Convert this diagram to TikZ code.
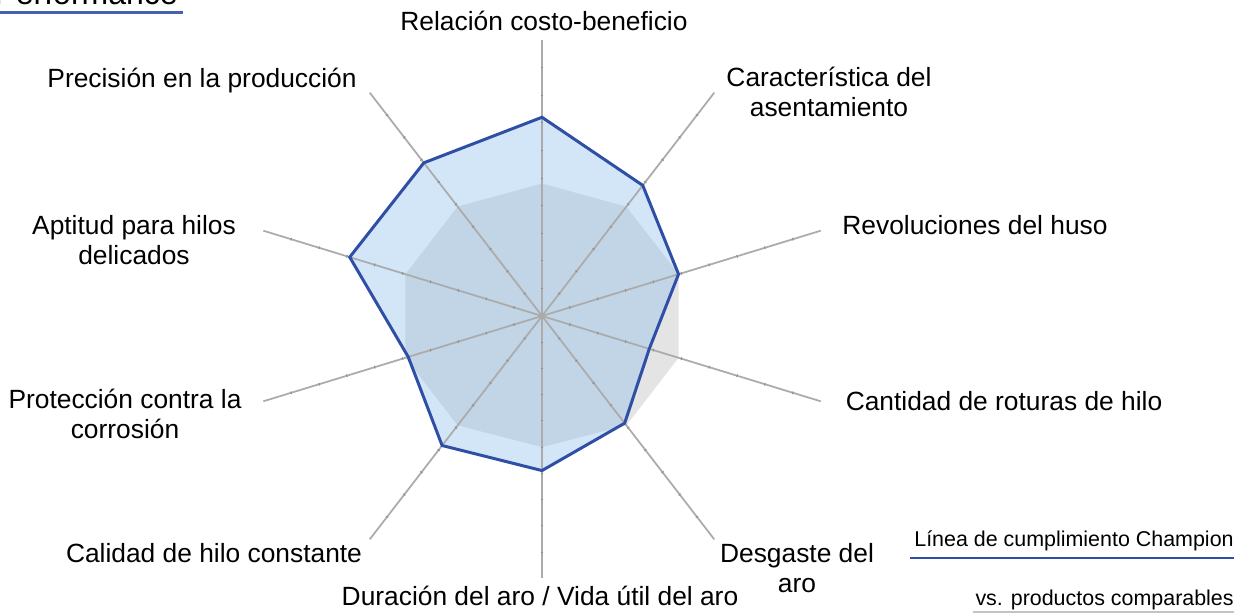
\documentclass[tikz,border=0pt]{standalone}
\usepackage{fontspec}
\setmainfont{Liberation Sans}
\usepackage{tikz}
\usetikzlibrary{calc}
\definecolor{linieblau}{HTML}{2F4EA6}
\definecolor{flaechenblau}{RGB}{145,192,235}
\definecolor{achsengrau}{HTML}{ABABAB}
\definecolor{strichgrau}{HTML}{8E8E8E}
\definecolor{vergleichgrau}{HTML}{E4E4E4}

\begin{document}
\begin{tikzpicture}[x=0.02cm,y=-0.02cm,
  achse/.style={achsengrau,line width=1pt},
  beschr/.style={font=\fontsize{15}{17}\selectfont,inner sep=0pt,align=center},
  legende/.style={font=\fontsize{12.2}{14}\selectfont,inner sep=0pt,anchor=base east}]
\useasboundingbox (0,0) rectangle (1254,614);
\coordinate (m) at (542,316);

% Achsen: Nummer / Winkel / Laenge
\foreach \i/\w/\l in {1/90/1,2/54/1,3/18/1,4/-18/1,5/-54/1,6/-90/0.95,7/-126/1,8/-162/1,9/162/1,10/126/1}
  \coordinate (a\i) at ({542+\l*293*cos(\w)},{316-\l*276*sin(\w)});

% Champion / Vergleich
\foreach \i/\w/\wert/\vgl in {1/90/0.72/0.48,2/54/0.585/0.49,3/18/0.49/0.49,4/-18/0.385/0.49,5/-54/0.48/0.49,
    6/-90/0.56/0.475,7/-126/0.58/0.49,8/-162/0.48/0.49,9/162/0.69/0.49,10/126/0.686/0.49}{
  \coordinate (c\i) at ({542+\wert*293*cos(\w)},{316-\wert*276*sin(\w)});
  \coordinate (g\i) at ({542+\vgl*293*cos(\w)},{316-\vgl*276*sin(\w)});
}

\fill[vergleichgrau] (g1) -- (g2) -- (g3) -- (g4) -- (g5) -- (g6) -- (g7) -- (g8) -- (g9) -- (g10) -- cycle;
\fill[flaechenblau,opacity=0.4] (c1) -- (c2) -- (c3) -- (c4) -- (c5) -- (c6) -- (c7) -- (c8) -- (c9) -- (c10) -- cycle;

\foreach \i in {1,...,10}{
  \draw[achse] (m) -- (a\i);
  \foreach \k in {1,...,9}{
    \coordinate (t) at ($(m)!\k/10!(a\i)$);
    \draw[strichgrau,line width=0.5pt] ($(t)!0.8pt!90:(a\i)$) -- ($(t)!0.8pt!-90:(a\i)$);
  }
}

\draw[linieblau,line width=1.7pt] (c1) -- (c2) -- (c3) -- (c4) -- (c5) -- (c6) -- (c7) -- (c8) -- (c9) -- (c10) -- cycle;

% Beschriftungen
\node[beschr,anchor=base] (rel) at (544,31) {Relación costo-beneficio};
\node[beschr] (cara) at (829,92) {Característica del\\asentamiento};
\node[beschr,anchor=base] (rev) at (975,235) {Revoluciones del huso};
\node[beschr,anchor=base] (rot) at (1004,411) {Cantidad de roturas de hilo};
\node[beschr] (desg) at (797,568) {Desgaste del\\aro};
\node[beschr,anchor=base] (dur) at (540,605) {Duración del aro / Vida útil del aro};
\node[beschr,anchor=base] (cal) at (214,562) {Calidad de hilo constante};
\node[beschr] (prot) at (125,414) {Protección contra la\\corrosión};
\node[beschr] (apt) at (134,240) {Aptitud para hilos\\delicados};
\node[beschr,anchor=base] (prec) at (202,88) {Precisión en la producción};

% Titel (oben abgeschnitten)
\node[font=\fontsize{18.2}{20}\selectfont,inner sep=0pt,anchor=base east] (titel) at (178,5) {Performance};
\draw[linieblau!90,line width=1.7pt] (0,13) -- (183,13);

% Legende
\node[legende] (leg1) at (1234,546) {Línea de cumplimiento Champion};
\draw[linieblau,line width=1.7pt] (910,558) -- (1234,558);
\node[legende] (leg2) at (1234,605) {vs. productos comparables};
\draw[achsengrau!70,line width=1pt] (973,612) -- (1234,612);
\end{tikzpicture}
\end{document}
